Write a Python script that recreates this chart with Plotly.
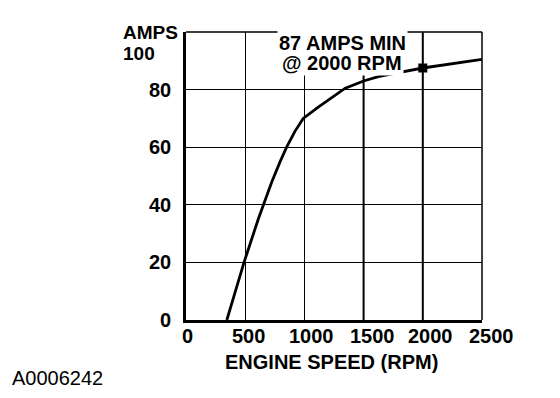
import plotly.graph_objects as go

# Data
rpm = [345, 490, 610, 655, 725, 795, 850, 920, 990, 1120, 1260, 1345, 1500,
       1625, 1740, 2000, 2500]
amps = [0, 20, 35, 40, 48, 55, 60, 65.5, 70, 74, 78, 80.5, 83,
        84.5, 85.5, 87.5, 90.5]
marker_rpm = [2000]
marker_amps = [87.5]

x_ticks = [0, 500, 1000, 1500, 2000, 2500]
x_tick_labels = ["0", "500", "1000", "1500", "2000", "2500"]
y_ticks = [0, 20, 40, 60, 80]
y_tick_labels = ["0", "20", "40", "60", "80"]
heavy_grid_rpm = [1500, 2000]

FONT = "Liberation Sans, Arial, Helvetica, sans-serif"

fig = go.Figure()
fig.add_trace(go.Scatter(x=rpm, y=amps, mode="lines",
                         line=dict(color="black", width=2.8),
                         hoverinfo="skip", showlegend=False))
fig.add_trace(go.Scatter(x=marker_rpm, y=marker_amps, mode="markers",
                         marker=dict(symbol="square", size=9, color="black"),
                         hoverinfo="skip", showlegend=False))

# page body has an 8px margin, so the figure is offset by 8px
fig.update_layout(
    width=544, height=382,
    margin=dict(l=178, r=70, t=24, b=70),
    paper_bgcolor="white", plot_bgcolor="white",
    font=dict(family=FONT, color="black"),
    showlegend=False,
)
fig.update_xaxes(range=[0, 2500], tickvals=x_ticks, showticklabels=False,
                 showgrid=True, gridcolor="black", gridwidth=1.1,
                 showline=True, linecolor="black", linewidth=2.6,
                 zeroline=False, ticks="")
fig.update_yaxes(range=[0, 100], tickvals=y_ticks, ticktext=y_tick_labels,
                 tickfont=dict(family=FONT, size=20, weight="bold", color="black"),
                 ticklabelstandoff=8,
                 showgrid=True, gridcolor="black", gridwidth=1,
                 showline=True, linecolor="black", linewidth=2.6,
                 zeroline=False, ticks="")

for v in heavy_grid_rpm:
    fig.add_shape(type="line", xref="x", yref="paper", x0=v, x1=v, y0=0, y1=1,
                  line=dict(color="black", width=2), layer="below")

# top and right frame edges (thinner)
fig.add_shape(type="line", xref="paper", yref="paper", x0=0, x1=1, y0=1, y1=1,
              line=dict(color="black", width=1.5))
fig.add_shape(type="line", xref="paper", yref="paper", x0=1, x1=1, y0=0, y1=1,
              line=dict(color="black", width=1.5))

# x tick labels
label_shift = [1, 3, 7, 9, 8, 9]
for v, t, s in zip(x_ticks, x_tick_labels, label_shift):
    fig.add_annotation(x=v, y=-0.056, xref="x", yref="paper", text=t,
                       showarrow=False, xanchor="center", yanchor="middle",
                       xshift=s,
                       font=dict(family=FONT, size=20, weight="bold"))

bold = dict(family=FONT, size=20, weight="bold", color="black")
small_bold = dict(family=FONT, size=19, weight="bold", color="black")
fig.add_annotation(x=-0.216, y=0.998, xref="paper", yref="paper", text="AMPS",
                   showarrow=False, xanchor="left", yanchor="bottom",
                   yshift=-11, borderpad=0, font=small_bold)
fig.add_annotation(x=-0.216, y=0.931, xref="paper", yref="paper", text="100",
                   showarrow=False, xanchor="left", yanchor="top",
                   yshift=10, borderpad=0, font=small_bold)
fig.add_annotation(x=0.49, y=-0.146, xref="paper", yref="paper",
                   text="ENGINE SPEED (RPM)", showarrow=False,
                   xanchor="center", yanchor="middle", font=bold)
fig.add_annotation(x=-0.595, y=-0.203, xref="paper", yref="paper",
                   text="A0006242", showarrow=False, xanchor="left",
                   yanchor="middle",
                   font=dict(family=FONT, size=20, color="black"))

big = dict(family=FONT, size=20, weight="bold", color="black")
fig.add_annotation(x=1318, y=96.2, xref="x", yref="y", text="87 AMPS MIN",
                   showarrow=False, xanchor="center", yanchor="middle",
                   bgcolor="white", borderpad=1, font=big)
fig.add_annotation(x=1318, y=89.2, xref="x", yref="y", text="@ 2000 RPM",
                   showarrow=False, xanchor="center", yanchor="middle",
                   bgcolor="white", borderpad=1, font=big)

fig.write_html("out.html")
